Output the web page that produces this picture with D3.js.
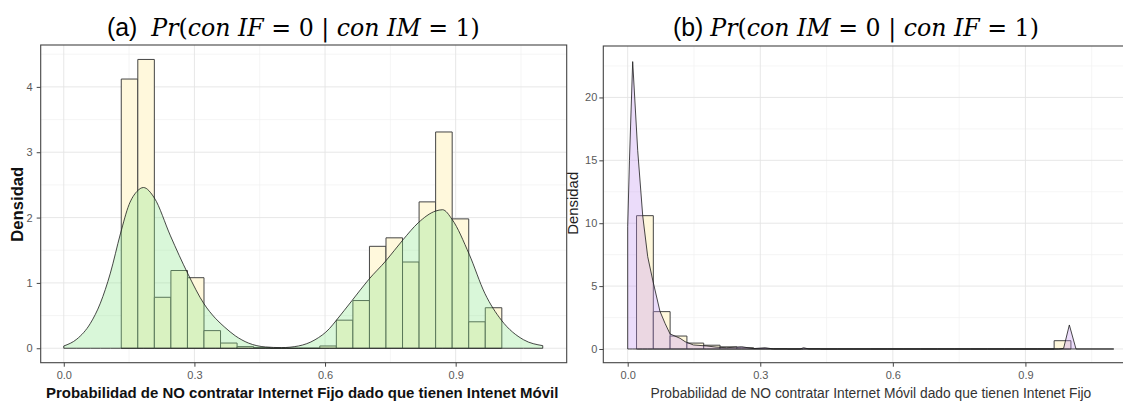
<!DOCTYPE html>
<html>
<head>
<meta charset="utf-8">
<script src="https://cdn.jsdelivr.net/npm/d3@7"></script>
<style>
  body { margin: 0; background: #fff; }
  svg { display: block; }
</style>
</head>
<body>
<svg id="graph"></svg>
<script>
var width = 1123, height = 402;

// ---- panel (a): Pr(con IF = 0 | con IM = 1)
var edgesA = [0.132, 0.170, 0.208, 0.246, 0.284, 0.322, 0.360, 0.398, 0.436, 0.474, 0.512, 0.550,
              0.588, 0.626, 0.664, 0.702, 0.740, 0.778, 0.816, 0.854, 0.892, 0.930, 0.968, 1.006];
var countsA = [4.12, 4.42, 0.78, 1.19, 1.08, 0.27, 0.08, 0.025, 0.01, 0, 0, 0,
               0.035, 0.43, 0.73, 1.56, 1.69, 1.32, 2.24, 3.31, 1.98, 0.405, 0.62];
var densAx = [0.0, 0.03, 0.061, 0.084, 0.107, 0.13, 0.15, 0.168, 0.183, 0.208, 0.245, 0.285, 0.322,
              0.348, 0.37, 0.394, 0.424, 0.463, 0.50, 0.539, 0.577, 0.61, 0.625, 0.662, 0.70, 0.74,
              0.779, 0.814, 0.854, 0.87, 0.892, 0.931, 0.967, 1.005, 1.056, 1.10];
var densAy = [0.035, 0.14, 0.38, 0.69, 1.15, 1.75, 2.2, 2.4, 2.46, 2.3, 1.72, 1.14, 0.68,
              0.46, 0.32, 0.19, 0.08, 0.02, 0.01, 0.035, 0.13, 0.3, 0.42, 0.73, 1.05, 1.34,
              1.66, 1.92, 2.10, 2.12, 1.97, 1.44, 0.84, 0.43, 0.13, 0.04];

// ---- panel (b): Pr(con IM = 0 | con IF = 1)
var edgesB = [0.020, 0.058, 0.096, 0.134, 0.172, 0.209, 0.247, 0.285, 0.323, 0.361, 0.398, 0.436,
              0.474, 0.512, 0.550, 0.587, 0.625, 0.663, 0.701, 0.739, 0.776, 0.814, 0.852, 0.890,
              0.928, 0.965, 1.003];
var countsB = [10.6, 2.97, 1.03, 0.47, 0.3, 0.17, 0.1, 0.03, 0.02, 0, 0.02, 0,
               0, 0, 0, 0, 0, 0, 0, 0, 0, 0, 0, 0, 0, 0.66];
var densBx = [0.0, 0.0, 0.004, 0.0113, 0.0226, 0.034, 0.0453, 0.0566, 0.073, 0.0845, 0.0958, 0.1185,
              0.13, 0.1486, 0.179, 0.20, 0.224, 0.258, 0.284, 0.311, 0.33, 0.39, 0.398, 0.41,
              0.975, 0.9864, 0.9994, 1.0145, 1.10];
var densBy = [0, 9.72, 15.0, 22.85, 15.8, 10.6, 7.34, 5.48, 3.0, 2.04, 1.2, 0.85,
              0.58, 0.32, 0.24, 0.15, 0.1, 0.18, 0.03, 0.1, 0.0, 0.0, 0.1, 0.0,
              0.0, 0.05, 1.91, 0.0, 0.0];

var ticksX = [0, 0.3, 0.6, 0.9];
var minorX = [0.15, 0.45, 0.75, 1.05];
var ticksYA = [0, 1, 2, 3, 4];
var minorYA = [0.5, 1.5, 2.5, 3.5, 4.5];
var ticksYB = [0, 5, 10, 15, 20];
var minorYB = [2.5, 7.5, 12.5, 17.5, 22.5];

var svg = d3.select("#graph")
	.attr("width", width)
	.attr("height", height);

function fit(sel, target) {
	var w = sel.node().getComputedTextLength();
	var fs = parseFloat(sel.attr("font-size"));
	sel.attr("font-size", fs * target / w);
}

function panel(cfg) {
	var x = cfg.x, y = cfg.y;
	var xr = x.range(), yr = y.range();
	var g = svg.append("g");

	// grid
	g.selectAll(".minx").data(cfg.minorX).enter().append("line")
		.attr("x1", d => x(d)).attr("x2", d => x(d))
		.attr("y1", yr[0]).attr("y2", yr[1])
		.attr("stroke", "#f0f0f0").attr("stroke-width", 0.7);
	g.selectAll(".miny").data(cfg.minorY).enter().append("line")
		.attr("x1", xr[0]).attr("x2", xr[1])
		.attr("y1", d => y(d)).attr("y2", d => y(d))
		.attr("stroke", "#f0f0f0").attr("stroke-width", 0.7);
	g.selectAll(".majx").data(ticksX).enter().append("line")
		.attr("x1", d => x(d)).attr("x2", d => x(d))
		.attr("y1", yr[0]).attr("y2", yr[1])
		.attr("stroke", "#e4e4e4").attr("stroke-width", 0.9);
	g.selectAll(".majy").data(cfg.ticksY).enter().append("line")
		.attr("x1", xr[0]).attr("x2", xr[1])
		.attr("y1", d => y(d)).attr("y2", d => y(d))
		.attr("stroke", "#e4e4e4").attr("stroke-width", 0.9);

	// histogram
	g.selectAll(".bar").data(cfg.counts).enter().append("path")
		.attr("d", (d, i) => "M" + x(cfg.edges[i]) + "," + y(0) + "V" + y(d) +
			"H" + x(cfg.edges[i + 1]) + "V" + y(0) + "Z")
		.attr("fill", "#fff8dc")
		.attr("stroke", "#444")
		.attr("stroke-width", 1);

	// density
	var pts = cfg.dx.map((v, i) => [v, cfg.dy[i]]);
	var area = d3.area()
		.x(d => x(d[0]))
		.y0(y(0))
		.y1(d => y(d[1]))
		.curve(cfg.curve);
	g.append("path")
		.attr("d", area(pts))
		.attr("fill", cfg.fill)
		.attr("fill-opacity", 0.32)
		.attr("stroke", "#1a1a1a")
		.attr("stroke-width", 0.8);

	// border
	g.append("rect")
		.attr("x", xr[0]).attr("y", yr[1])
		.attr("width", xr[1] - xr[0]).attr("height", yr[0] - yr[1])
		.attr("fill", "none").attr("stroke", "#444").attr("stroke-width", 1.1);

	// axes
	var ax = g.append("g")
		.attr("transform", "translate(0," + yr[0] + ")")
		.call(d3.axisBottom(x).tickValues(ticksX).tickFormat(d3.format(".1f"))
			.tickSize(4).tickPadding(5));
	var ay = g.append("g")
		.attr("transform", "translate(" + xr[0] + ",0)")
		.call(d3.axisLeft(y).tickValues(cfg.ticksY).tickFormat(d3.format("d"))
			.tickSize(4).tickPadding(cfg.ypad));
	[ax, ay].forEach(function (a) {
		a.select(".domain").remove();
		a.selectAll(".tick line").attr("stroke", "#444");
		a.selectAll(".tick text")
			.attr("fill", "#595959")
			.attr("font-family", "Liberation Sans, Arial, sans-serif")
			.attr("font-size", 11);
	});
}

panel({
	x: d3.scaleLinear().domain([-0.053, 1.155]).range([40.7, 566.7]),
	y: d3.scaleLinear().domain([-0.221, 4.641]).range([362.7, 45]),
	edges: edgesA, counts: countsA, dx: densAx, dy: densAy,
	ticksY: ticksYA, minorY: minorYA, minorX: minorX,
	fill: "#8ae68a", curve: d3.curveMonotoneX, ypad: 4
});

panel({
	x: d3.scaleLinear().domain([-0.0552, 1.155]).range([603.3, 1138.1]),
	y: d3.scaleLinear().domain([-1.09, 24.09]).range([362.7, 46]),
	edges: edgesB, counts: countsB, dx: densBx, dy: densBy,
	ticksY: ticksYB, minorY: minorYB, minorX: minorX,
	fill: "#c291ee", curve: d3.curveLinear, ypad: 2
});

// axis titles
var xa = svg.append("text")
	.attr("x", 46).attr("y", 398)
	.attr("font-family", "Liberation Sans, Arial, sans-serif")
	.attr("font-weight", "bold").attr("font-size", 14).attr("fill", "#111")
	.text("Probabilidad de NO contratar Internet Fijo dado que tienen Intenet Móvil");
fit(xa, 513);

var xb = svg.append("text")
	.attr("x", 650.5).attr("y", 397.5)
	.attr("font-family", "Liberation Sans, Arial, sans-serif")
	.attr("font-size", 13).attr("fill", "#333")
	.text("Probabilidad de NO contratar Internet Móvil dado que tienen Intenet Fijo");
fit(xb, 441);

var ya = svg.append("text")
	.attr("transform", "translate(23.3,204.2) rotate(-90)")
	.attr("text-anchor", "middle")
	.attr("font-family", "Liberation Sans, Arial, sans-serif")
	.attr("font-weight", "bold").attr("font-size", 15).attr("fill", "#111")
	.text("Densidad");
fit(ya, 75);

var yb = svg.append("text")
	.attr("transform", "translate(578.3,203.3) rotate(-90)")
	.attr("text-anchor", "middle")
	.attr("font-family", "Liberation Sans, Arial, sans-serif")
	.attr("font-size", 14).attr("fill", "#222")
	.text("Densidad");
fit(yb, 63);

// panel titles
function title(lead, parts, x0, target) {
	var t = svg.append("text")
		.attr("x", x0).attr("y", 36)
		.attr("font-size", 22).attr("fill", "#000");
	t.append("tspan")
		.attr("font-family", "Liberation Sans, Arial, sans-serif")
		.attr("font-size", "1.05em")
		.text(lead);
	parts.forEach(function (p) {
		t.append("tspan")
			.attr("font-family", "DejaVu Serif, serif")
			.attr("font-style", p[1] ? "italic" : "normal")
			.text(p[0]);
	});
	fit(t, target);
}
title("(a)\u00a0\u00a0", [["Pr", 1], ["(", 0], ["con IF", 1], [" = 0 | ", 0], ["con IM", 1], [" = 1)", 0]], 107, 373);
title("(b)\u00a0", [["Pr", 1], ["(", 0], ["con IM", 1], [" = 0 | ", 0], ["con IF", 1], [" = 1)", 0]], 673, 366);
</script>
</body>
</html>
